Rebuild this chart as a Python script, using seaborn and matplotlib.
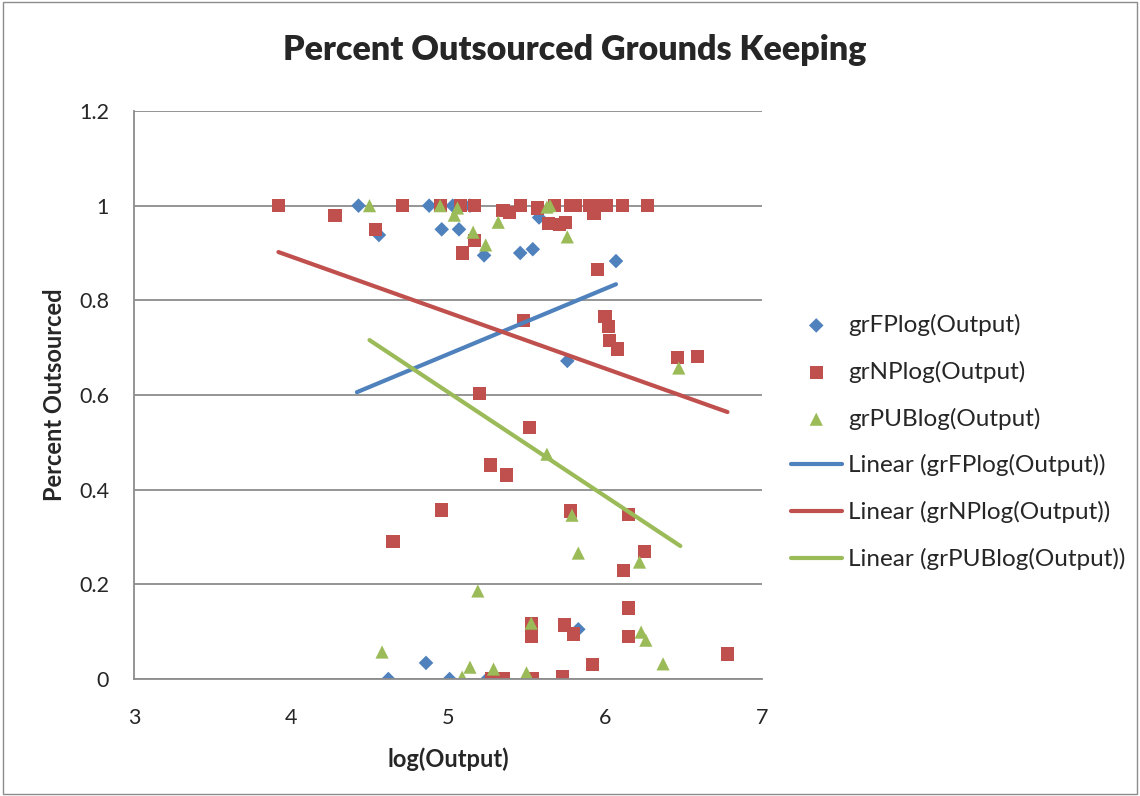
import numpy as np
import pandas as pd
import matplotlib.pyplot as plt
import seaborn as sns
from matplotlib.patches import Rectangle

# values
fp_x = [4.43, 4.56, 4.88, 4.96, 5.03, 5.07, 5.14, 5.23, 5.46, 5.54, 5.58, 6.07, 5.76, 4.62, 4.86, 5.01, 5.25, 5.83]
fp_y = [1.0, 0.938, 1.0, 0.95, 1.0, 0.95, 1.0, 0.895, 0.90, 0.908, 0.975, 0.883, 0.672, 0.0, 0.034, 0.0, 0.0, 0.105]

np_x = [3.92, 4.28, 4.54, 4.71, 4.95, 5.08, 5.17, 5.35, 5.39, 5.46, 5.57, 5.68, 5.78, 5.81, 5.90, 5.95, 6.01, 6.11,
        6.27, 5.93, 5.64, 5.71, 5.75, 5.95, 5.17, 5.09, 5.48, 6.00, 6.02, 6.03, 6.08, 6.46, 6.59, 5.52, 5.37, 5.20,
        5.27, 4.96, 4.65, 5.78, 6.15, 6.25, 6.12, 6.15, 6.15, 5.92, 6.78, 5.53, 5.53, 5.74, 5.80, 5.28, 5.35, 5.54, 5.73]
np_y = [1.0, 0.98, 0.95, 1.0, 1.0, 1.0, 1.0, 0.99, 0.986, 1.0, 0.995, 1.0, 1.0, 1.0, 1.0, 1.0, 1.0, 1.0,
        1.0, 0.984, 0.963, 0.96, 0.965, 0.866, 0.927, 0.90, 0.758, 0.765, 0.744, 0.716, 0.697, 0.68, 0.682, 0.532, 0.431, 0.604,
        0.452, 0.357, 0.29, 0.355, 0.348, 0.27, 0.23, 0.15, 0.089, 0.03, 0.053, 0.118, 0.089, 0.114, 0.095, 0.0, 0.0, 0.0, 0.006]

pub_x = [4.50, 4.95, 5.06, 5.04, 5.16, 5.24, 5.32, 5.63, 5.65, 5.76, 6.47, 5.63, 5.79, 5.83, 6.22, 5.19, 5.53,
         4.58, 5.14, 5.09, 5.29, 5.50, 6.23, 6.26, 6.37]
pub_y = [1.0, 1.0, 0.995, 0.98, 0.944, 0.917, 0.965, 0.997, 1.0, 0.934, 0.657, 0.475, 0.346, 0.266, 0.247, 0.186, 0.118,
         0.057, 0.025, 0.004, 0.021, 0.013, 0.099, 0.082, 0.032]

# linear trend lines (end points)
fp_trend_x = [4.42, 6.07]
fp_trend_y = [0.606, 0.834]
np_trend_x = [3.92, 6.78]
np_trend_y = [0.902, 0.564]
pub_trend_x = [4.50, 6.48]
pub_trend_y = [0.716, 0.281]

labels = ["grFPlog(Output)", "grNPlog(Output)", "grPUBlog(Output)"]
colors = ["#4F81BD", "#C0504D", "#9BBB59"]

sns.set_style("white")
plt.rcParams["font.family"] = ["Lato", "DejaVu Sans"]

fig = plt.figure(figsize=(11.4, 7.96), dpi=100)
ax = fig.add_axes([134 / 1140, 1 - 679 / 796, 628 / 1140, 568 / 796])

sns.scatterplot(x=fp_x, y=fp_y, ax=ax, marker="D", s=55, color=colors[0], edgecolor="none", label=labels[0])
sns.scatterplot(x=np_x, y=np_y, ax=ax, marker="s", s=90, color=colors[1], edgecolor="none", label=labels[1])
sns.scatterplot(x=pub_x, y=pub_y, ax=ax, marker="^", s=90, color=colors[2], edgecolor="none", label=labels[2])

sns.lineplot(x=fp_trend_x, y=fp_trend_y, ax=ax, color=colors[0], lw=3, label="Linear (" + labels[0] + ")")
sns.lineplot(x=np_trend_x, y=np_trend_y, ax=ax, color=colors[1], lw=3, label="Linear (" + labels[1] + ")")
sns.lineplot(x=pub_trend_x, y=pub_trend_y, ax=ax, color=colors[2], lw=3, label="Linear (" + labels[2] + ")")

ax.set_xlim(3, 7)
ax.set_ylim(0, 1.2)
ax.set_xticks([3, 4, 5, 6, 7])
ax.set_yticks([0, 0.2, 0.4, 0.6, 0.8, 1.0, 1.2])
ax.set_yticklabels(["0", "0.2", "0.4", "0.6", "0.8", "1", "1.2"])
ax.tick_params(labelsize=15.5, length=0)
ax.tick_params(axis="y", pad=18)
ax.tick_params(axis="x", pad=21)
ax.yaxis.grid(True, color="#8c8c8c", lw=1.3)
ax.set_axisbelow(True)
for s in ["top", "right"]:
    ax.spines[s].set_visible(False)
for s in ["left", "bottom"]:
    ax.spines[s].set_color("#8c8c8c")
    ax.spines[s].set_linewidth(1.3)

ax.set_xlabel("log(Output)", fontsize=17, fontweight="bold", labelpad=14)
ax.set_ylabel("Percent Outsourced", fontsize=17, fontweight="bold", labelpad=9)
fig.suptitle("Percent Outsourced Grounds Keeping", x=575 / 1140, y=1 - 50 / 796, va="center",
             fontsize=24.5, fontweight="heavy")

handles, labs = ax.get_legend_handles_labels()
ax.get_legend().remove()
fig.legend(handles, labs, loc="upper left", bbox_to_anchor=(781 / 1140, 1 - 304 / 796), frameon=False,
           fontsize=17.5, handlelength=2.1, handletextpad=0.25, labelspacing=1.02, borderaxespad=0)

fig.add_artist(Rectangle((0.003, 0.003), 0.994, 0.994, transform=fig.transFigure, fill=False,
                         edgecolor="#8c8c8c", lw=1))

plt.savefig("out.png", dpi=100)
